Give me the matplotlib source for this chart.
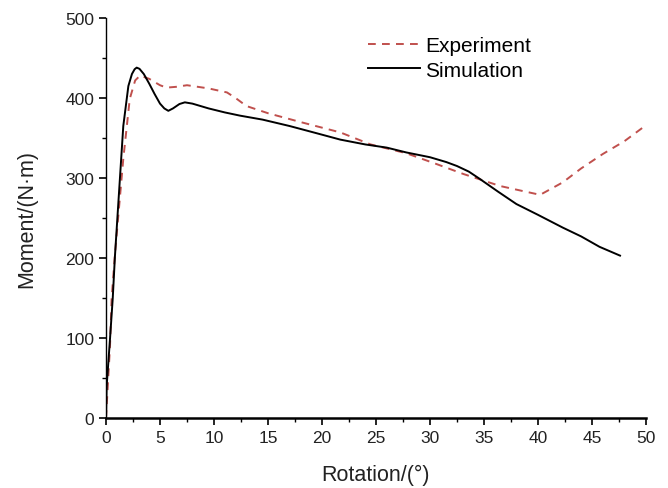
import matplotlib
matplotlib.use("Agg")
import matplotlib.pyplot as plt
from matplotlib.ticker import MultipleLocator

plt.rcParams['font.family'] = ['Liberation Sans', 'DejaVu Sans']

sim_x = [0, 0.06, 0.37, 0.62, 0.83, 1.1, 1.6, 2.07, 2.4, 2.65, 2.84, 3.1, 3.5, 4.0, 4.5, 5.0, 5.4, 5.77, 6.2, 6.8, 7.3, 8.0, 9.5, 11.0, 12.4, 14.5, 17.0, 19.5, 21.7, 24.0, 26.0, 27.8, 30.0, 31.5, 32.5, 33.6, 34.6, 36.3, 38.0, 40.0, 42.3, 44.0, 45.7, 47.6]
sim_y = [0, 40, 99, 149, 203, 260, 365, 415, 430, 436, 438, 436.5, 430, 418, 405, 393, 387, 384, 387, 392.5, 394.6, 393, 387, 382, 378, 373, 365, 356, 348, 342, 338, 332, 326, 320, 315, 308, 299, 283, 267.5, 254, 238, 227, 214, 203]

exp_x = [0, 0.37, 0.52, 0.8, 1.14, 1.6, 2.2, 2.7, 3.15, 4.0, 5.0, 5.6, 6.5, 7.5, 9.5, 11.2, 12.0, 13.0, 15.0, 18.0, 21.7, 24.5, 27.8, 30.5, 33.1, 36.5, 38.5, 40.2, 42.3, 44.0, 46.0, 48.0, 49.9]
exp_y = [0, 90, 149, 200, 253, 324, 399, 422, 428, 424, 416, 413, 414, 416, 412, 407, 400, 390, 381, 370, 357, 342, 331, 318, 305, 290, 284, 279, 294.6, 312, 330, 346, 365]

x_ticks = [0, 5, 10, 15, 20, 25, 30, 35, 40, 45, 50]
y_ticks = [0, 100, 200, 300, 400, 500]

fig = plt.figure(figsize=(6.68, 4.89), dpi=100)
ax = fig.add_axes([0.1587, 0.1431, 0.8083, 0.818])

ax.plot(exp_x, exp_y, linestyle=(0, (4, 3.2)), color='#c0504d', linewidth=1.4, label='Experiment')
ax.plot(sim_x, sim_y, color='black', linewidth=1.4, label='Simulation')

ax.set_xlim(0, 50)
ax.set_ylim(0, 500)
ax.set_xticks(x_ticks)
ax.set_yticks(y_ticks)
ax.xaxis.set_minor_locator(MultipleLocator(2.5))
ax.yaxis.set_minor_locator(MultipleLocator(50))
ax.spines['top'].set_visible(False)
ax.spines['right'].set_visible(False)
ax.spines['left'].set_linewidth(1.0)
ax.spines['bottom'].set_linewidth(1.8)
ax.tick_params(axis='both', which='major', direction='out', length=5, width=1.2, labelsize=12.5, color='black', labelcolor='#222222')
ax.tick_params(axis='both', which='minor', direction='out', length=3, width=1.0)

ax.set_xlabel('Rotation/(°)', fontsize=15.5, color='#222222')
ax.set_ylabel('Moment/(N·m)', fontsize=15.5, color='#222222')
ax.xaxis.set_label_coords(0.5, -0.115)
ax.yaxis.set_label_coords(-0.128, 0.5)

leg = ax.legend(loc='upper left', bbox_to_anchor=(0.47, 0.975), frameon=False, fontsize=15,
                handlelength=2.5, handletextpad=0.25, labelspacing=0.25, borderaxespad=0)

fig.savefig('out.png', dpi=100)
